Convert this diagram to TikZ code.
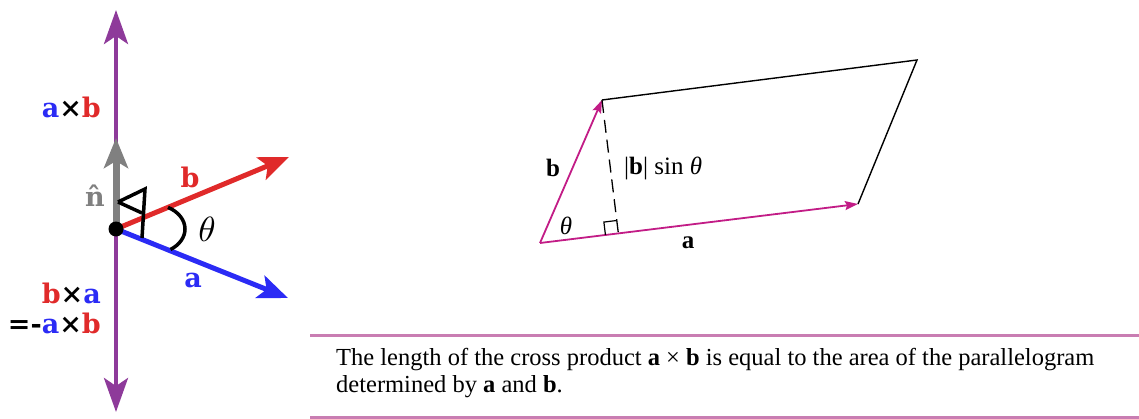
\documentclass[tikz,border=0pt]{standalone}
\usepackage{amsmath}
\usepackage{fontspec}
\setmainfont{Liberation Serif}
\newfontfamily\labelfont{DejaVu Serif}
\usepackage{tikz}
\usetikzlibrary{arrows.meta,calc}

\definecolor{crosspurple}{HTML}{8E3A9A}
\definecolor{vecred}{HTML}{E02A2A}
\definecolor{vecblue}{HTML}{2B2BF5}
\definecolor{normgray}{HTML}{808080}
\definecolor{sidemagenta}{HTML}{C21C86}
\definecolor{rulepink}{HTML}{C97DB2}

\begin{document}
\begin{tikzpicture}[x=1pt,y=1pt,>=stealth,
		crossvec/.style={crosspurple,line width=4pt,-{Stealth[length=34pt,width=24pt,inset=8pt]}},
		normvec/.style={normgray,line width=7pt,-{Stealth[length=30pt,width=24pt,inset=7pt]}},
		planevec/.style={line width=5pt,-{Stealth[length=30pt,width=24pt,inset=7pt]}},
		sidevec/.style={sidemagenta,line width=1.8pt,-{Stealth[length=13pt,width=9pt,inset=2pt]}},
		veclabel/.style={inner sep=0pt,font=\labelfont\bfseries\fontsize{27}{27}\selectfont},
		figlabel/.style={inner sep=0pt,font=\fontsize{25}{25}\selectfont},
		captext/.style={inner sep=0pt,font=\fontsize{24.5}{24.5}\selectfont}]
			\useasboundingbox (0,0) rectangle (1139,418);

			% left: a, b and the two cross products
			\coordinate (o) at (116,189);
			\coordinate (up) at (116,408);
			\coordinate (down) at (116,6);
			\coordinate (n) at (116,280);
			\coordinate (b) at (289,261);
			\coordinate (a) at (288,120);

			\draw [crossvec] (o) -- (up);
			\draw [crossvec] (o) -- (down);
			\draw [normvec] (o) -- (n);
			\draw [planevec,vecred] (o) -- (b);
			\draw [planevec,vecblue] (o) -- (a);
			\fill (o) circle (7.5);
			\draw [line width=3.5pt] ($(151,189)+(60:34 and 25)$) arc (60:-55:34 and 25);
			\draw [line width=3.5pt] (118,216) -- (145,229) -- (142,180);
			\draw [line width=3.5pt] (118,216) -- (142,205);

			\node [veclabel,anchor=east] (axb) at (101,311) {\textcolor{vecblue}{a}×\textcolor{vecred}{b}};
			\node [veclabel,text=normgray] (nhat) at (95,222) {n̂};
			\node [veclabel,text=vecred] (blabel) at (190,241) {b};
			\node [inner sep=0pt] (theta) at (207,189) {\scalebox{3.5}{$\theta$}};
			\node [veclabel,text=vecblue] (alabel) at (193,138) {a};
			\node [veclabel,anchor=east] (bxa) at (101,125) {\textcolor{vecred}{b}×\textcolor{vecblue}{a}};
			\node [veclabel,anchor=east] (negaxb) at (101,95) {=-\textcolor{vecblue}{a}×\textcolor{vecred}{b}};

			% right: the parallelogram
			\coordinate (p0) at (540,175);
			\coordinate (pb) at (602,318);
			\coordinate (pa) at (858,214);
			\coordinate (pc) at (917,358);
			\coordinate (foot) at ($(p0)!(pb)!(pa)$);

			\draw [line width=1.4pt] (pb) -- (pc) -- (pa);
			\draw [sidevec] (p0) -- (pa);
			\draw [sidevec] (p0) -- (pb);
			\draw [line width=1.3pt,dash pattern=on 13pt off 7pt] (pb) -- (foot);
			\coordinate (s1) at ($(foot)!13pt!(p0)$);
			\coordinate (s3) at ($(foot)!13pt!(pb)$);
			\draw [line width=1.2pt] (s1) -- ($(s1)+(s3)-(foot)$) -- (s3);

			\node [figlabel] (bside) at (553,250) {\textbf{b}};
			\node [figlabel,anchor=west] (height) at (624,250) {|\textbf{b}| sin \textit{θ}};
			\node [figlabel] (theta2) at (566,192) {\textit{θ}};
			\node [figlabel] (aside) at (688,175) {\textbf{a}};

			% caption
			\draw [rulepink,line width=3pt] (310,83) -- (1139,83);
			\draw [rulepink,line width=3pt] (310,1) -- (1139,1);
			\node [captext,anchor=base west] (cap1) at (336,53) {The length of the cross product \textbf{a} × \textbf{b} is equal to the area of the parallelogram};
			\node [captext,anchor=base west] (cap2) at (336,26) {determined by \textbf{a} and \textbf{b}.};
		\end{tikzpicture}
\end{document}
